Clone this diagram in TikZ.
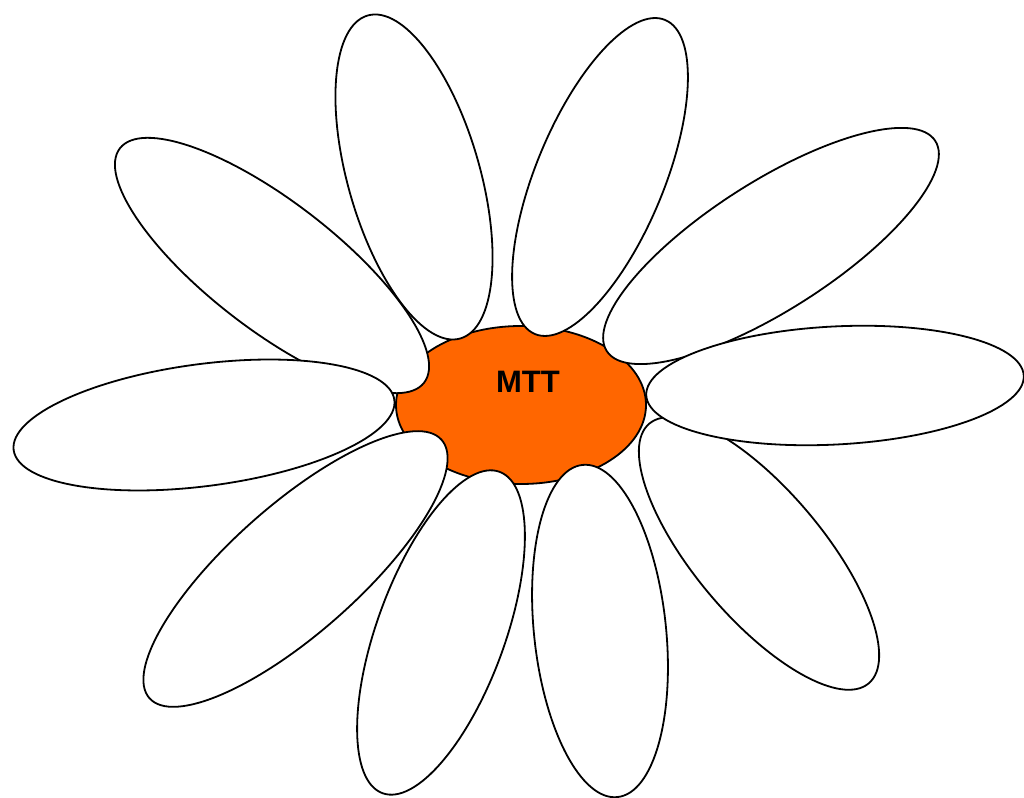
\documentclass[tikz,border=0pt]{standalone}
\usepackage{fontspec}
\setmainfont{Liberation Sans}
\usetikzlibrary{shapes.geometric}
\definecolor{daisyorange}{HTML}{FF6600}
\tikzset{
  petal/.style={ellipse, draw=black, fill=white, line width=1.8pt, inner sep=0pt},
  heart/.style={ellipse, draw=black, fill=daisyorange, line width=1.8pt, inner sep=0pt},
  labeltext/.style={font=\fontsize{31}{31}\selectfont\bfseries, text=black, inner sep=0pt}
}
\begin{document}
\begin{tikzpicture}[x=1pt,y=1pt]
\clip (0,0) rectangle (1024,797);
\useasboundingbox (0,0) rectangle (1024,797);
\node[heart, minimum width=250pt, minimum height=158pt] (c) at (521,392) {};
\node[petal, rotate=106, minimum width=336pt, minimum height=132pt] (p1) at (414,620) {};
\node[petal, rotate=67.5, minimum width=340pt, minimum height=128pt] (p2) at (600,620) {};
\node[petal, rotate=-37.6, minimum width=384pt, minimum height=128pt] (p3) at (272,531.5) {};
\node[petal, rotate=7.5, minimum width=384pt, minimum height=122pt] (p5) at (204,372) {};
\node[petal, rotate=32.6, minimum width=390pt, minimum height=128pt] (p4) at (771,551) {};
\node[petal, rotate=-49.8, minimum width=340pt, minimum height=128pt] (p10) at (759,243.5) {};
\node[petal, rotate=3, minimum width=378pt, minimum height=118pt] (p6) at (835,411.5) {};
\node[petal, rotate=41.5, minimum width=390pt, minimum height=128pt] (p7) at (295.5,228) {};
\node[petal, rotate=70, minimum width=342pt, minimum height=128pt] (p8) at (441,164.5) {};
\node[petal, rotate=96, minimum width=334pt, minimum height=132pt] (p9) at (600,166) {};
\node[labeltext] (mtt) at (528,415) {MTT};
\end{tikzpicture}
\end{document}
